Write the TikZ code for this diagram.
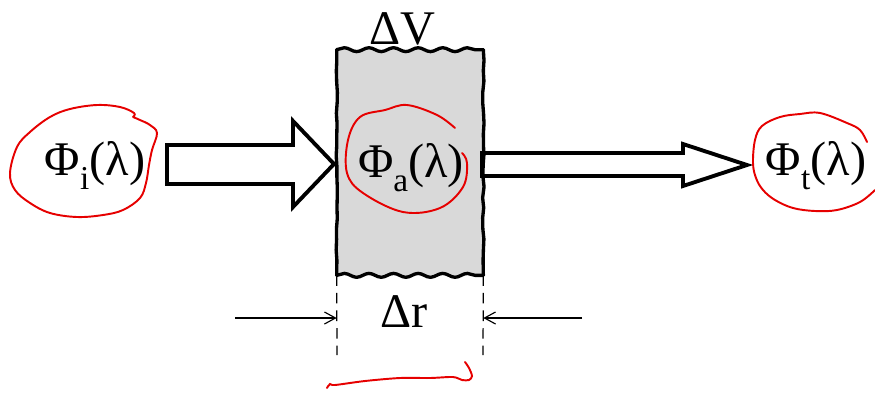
\documentclass[tikz,border=0pt]{standalone}
\usepackage{fontspec}
\setmainfont{Liberation Serif}
\usepackage{xcolor}
\definecolor{cVol}{HTML}{D9D9D9}
\definecolor{cInk}{HTML}{E60000}
\usepackage{tikz}
\usetikzlibrary{positioning, arrows.meta, decorations.pathmorphing}
\newcommand{\flux}[1]{Φ\raisebox{-0.3em}{\fontsize{19}{20}\selectfont #1}(λ)}

\begin{document}
\begin{tikzpicture}[
    x=0.02cm, y=-0.02cm,
    lbl/.style={font=\fontsize{27.5}{30}\selectfont, inner sep=0pt, anchor=base},
    volbox/.style={fill=cVol, minimum width=2.92cm, minimum height=4.5cm, inner sep=0pt},
    wavy/.style={line width=1.9pt, line cap=round, decorate,
                 decoration={snake, amplitude=1.1pt, segment length=14pt}},
    rough/.style={line width=1.9pt, line cap=round, decorate,
                  decoration={random steps, segment length=6pt, amplitude=0.4pt}},
    blockarr/.style={draw, line width=2.2pt, fill=white, line join=miter},
    dimarr/.style={-{Straight Barb[length=2.2mm, width=2.4mm]}, line width=0.65pt},
    guide/.style={dash pattern=on 6pt off 4pt, line width=0.7pt},
    ink/.style={cInk, line width=1.1pt, line cap=round}
]
\pgfmathsetseed{7}
\useasboundingbox (0,0) rectangle (875,393);

\node[volbox] (vol) at (410,162.5) {};

\draw[blockarr] (167,145) -- (293,145) -- (293,121) -- (334,164) -- (293,207) -- (293,184) -- (167,184) -- cycle;
\draw[blockarr] (482,153) -- (683,153) -- (683,144) -- (747,165) -- (683,186) -- (683,176) -- (482,176) -- cycle;

\draw[wavy] (vol.north west) -- (vol.north east);
\draw[wavy] (vol.south west) -- (vol.south east);
\draw[rough] (vol.north west) -- (vol.south west);
\draw[rough] (vol.north east) -- (vol.south east);

\node[lbl] (phiI) at (95,175) {\flux{i}};
\node[lbl] (phiA) at (411,177) {\flux{a}};
\node[lbl] (phiT) at (816,175) {\flux{t}};
\node[lbl] (dV) at (402,44) {ΔV};
\node[lbl] (dr) at (404,327) {Δr};

\coordinate (gL) at (337,355);
\coordinate (gR) at (483,355);
\draw[guide] (vol.south west) -- (gL);
\draw[guide] (vol.south east) -- (gR);

\coordinate (dimL) at (235,318);
\coordinate (dimR) at (582,318);
\draw[dimarr] (dimL) -- (dimL -| vol.west);
\draw[dimarr] (dimR) -- (dimR -| vol.east);

\draw[ink] plot[smooth, tension=0.6] coordinates {(133,117) (134,113) (120,107) (97,105) (70,109) (50,117) (30,132) (17,147) (10,173) (15,190) (30,203) (50,213) (77,217) (103,215) (123,210) (140,198) (146,183) (149,165) (152,150) (157,133) (150,125) (140,120) (133,117)};
\draw[ink] plot[smooth, tension=0.6] coordinates {(455,128) (437,115) (407,105) (385,110) (360,117) (348,140) (347,173) (363,193) (403,212) (440,208) (463,187) (467,163) (462,153)};
\draw[ink] plot[smooth, tension=0.6] coordinates {(867,142) (860,130) (847,123) (820,113) (800,114) (780,117) (762,126) (755,140) (753,163) (756,178) (763,190) (775,200) (793,208) (815,211) (837,210) (860,202) (875,190)};
\draw[ink] plot[smooth, tension=0.5] coordinates {(327,388) (330,384) (335,385) (365,381) (400,378) (430,378) (453,377) (462,380) (469,380) (472,376) (469,368) (465,362)};
\end{tikzpicture}
\end{document}
